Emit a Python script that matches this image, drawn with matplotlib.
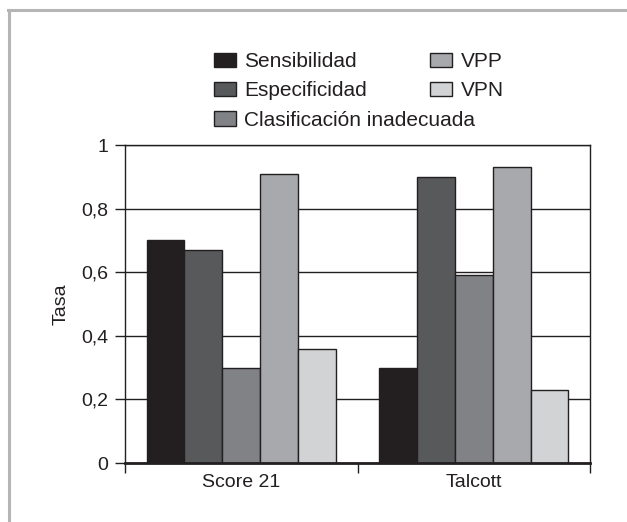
import matplotlib
matplotlib.use("Agg")
import matplotlib.pyplot as plt
import numpy as np
from matplotlib.patches import Patch
from matplotlib.lines import Line2D

plt.rcParams['font.family'] = ['Liberation Sans', 'DejaVu Sans']

categorias = ['Score 21', 'Talcott']
series = ['Sensibilidad', 'Especificidad', 'Clasificación inadecuada', 'VPP', 'VPN']
sensibilidad = [0.70, 0.30]
especificidad = [0.67, 0.90]
clasificacion = [0.30, 0.59]
vpp = [0.91, 0.93]
vpn = [0.36, 0.23]
yticks = [0, 0.2, 0.4, 0.6, 0.8, 1]
yticklabels = ['0', '0,2', '0,4', '0,6', '0,8', '1']

colores = ['#231f20', '#58595b', '#808285', '#a7a9ac', '#d1d3d4']
edge = '#231f20'

fig = plt.figure(figsize=(6.27, 5.22), dpi=100)
ax = fig.add_axes([125/627, 1-463/522, 465/627, 318/522])

valores = [sensibilidad, especificidad, clasificacion, vpp, vpn]
x = np.arange(len(categorias))
ancho = 0.163
handles = []
for i, (nombre, vals, c) in enumerate(zip(series, valores, colores)):
    pos = x + (i - 2) * ancho
    ax.bar(pos, vals, width=ancho, color=c, edgecolor=edge, linewidth=1.0, zorder=3)
    handles.append(Patch(facecolor=c, edgecolor=edge, linewidth=1.0, label=nombre))

#Ejes
ax.set_xlim(-0.5, 1.5)
ax.set_ylim(0, 1)
ax.set_yticks(yticks)
ax.set_yticklabels(yticklabels)
ax.set_xticks(x)
ax.set_xticklabels(categorias)
ax.set_xticks([-0.5, 0.5, 1.5], minor=True)
ax.tick_params(axis='x', which='major', length=0, labelsize=14, pad=8, colors='#231f20')
ax.tick_params(axis='x', which='minor', length=7, width=1, direction='out', color='#231f20')
ax.tick_params(axis='y', length=7, width=1, direction='out', labelsize=14, pad=5, colors='#231f20')
ax.set_ylabel('Tasa', fontsize=14, labelpad=8, color='#231f20')

#Cuadrícula
ax.grid(axis='y', color='#231f20', linewidth=1.0, zorder=0)
ax.set_axisbelow(True)
for s in ['left', 'right', 'top']:
    ax.spines[s].set_linewidth(1.0)
    ax.spines[s].set_color('#231f20')
ax.spines['bottom'].set_linewidth(2.0)
ax.spines['bottom'].set_color('#231f20')
ax.spines['bottom'].set_zorder(4)

#Leyenda
kw = dict(frameon=False, fontsize=15, handlelength=1.06, handleheight=0.67,
          handletextpad=0.4, labelspacing=0.5, borderpad=0, borderaxespad=0)
leg1 = fig.legend(handles=handles[:3], loc='upper left',
                  bbox_to_anchor=(214/627, 1-52/522), **kw)
leg2 = fig.legend(handles=handles[3:], loc='upper left',
                  bbox_to_anchor=(430/627, 1-52/522), **kw)
for leg in (leg1, leg2):
    for t in leg.get_texts():
        t.set_color('#231f20')

#Marco
gris = '#b5b5b5'
fig.add_artist(Line2D([8/627, 1], [1-10/522, 1-10/522], color=gris, linewidth=2.2,
                      transform=fig.transFigure))
fig.add_artist(Line2D([9/627, 9/627], [0, 1-10/522], color=gris, linewidth=2.2,
                      transform=fig.transFigure))

fig.savefig('out.png', dpi=100, facecolor='white')
